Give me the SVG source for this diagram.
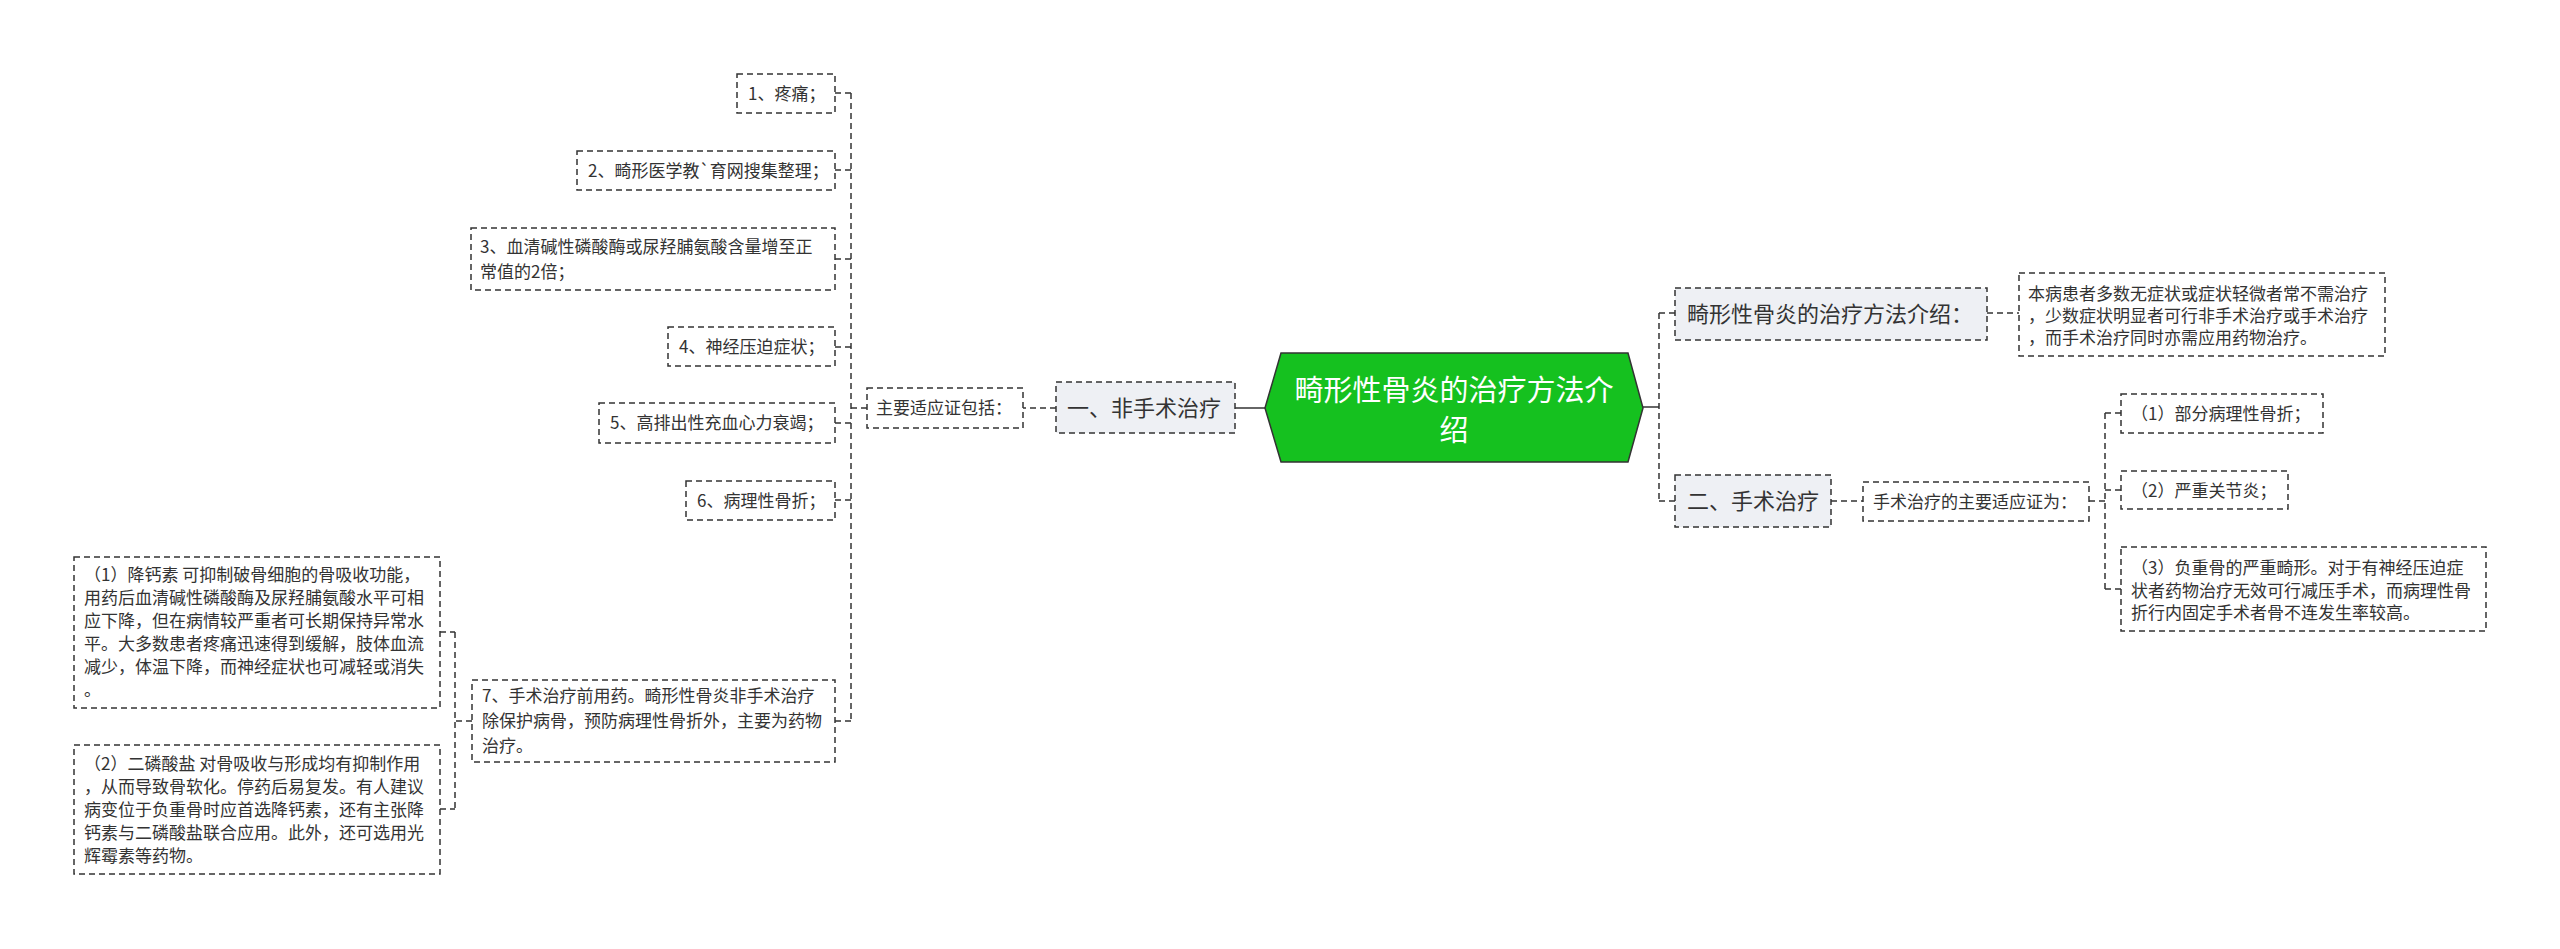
<svg xmlns="http://www.w3.org/2000/svg" width="2560" height="949" viewBox="0 0 2560 949">
<style>
.bx{fill:#ffffff;stroke:#333;stroke-width:1.5;stroke-dasharray:6 4}
.l1{fill:#eef0f4;stroke:#333;stroke-width:1.5;stroke-dasharray:6 4}
.t{font-family:"Noto Sans CJK SC","Noto Sans",sans-serif;fill:#333;font-size:17px}
.t1{font-family:"Noto Sans CJK SC","Noto Sans",sans-serif;fill:#333;font-size:22px}
.rt{font-family:"Noto Sans CJK SC","Noto Sans",sans-serif;fill:#ffffff;font-size:29px}
.c{stroke:#333;stroke-width:1.5;stroke-dasharray:6 4;fill:none}
.s{stroke:#333;stroke-width:1.5;fill:none}
</style>
<rect width="2560" height="949" fill="#ffffff"/>
<g id="connectors">
<path class="s" d="M1265 408 H1235"/>
<path class="c" d="M1056 408 H1023"/>
<path class="c" d="M867 408 H851"/>
<path class="c" d="M851 93 V721"/>
<path class="c" d="M835 93 H851 M835 170 H851 M835 259 H851 M835 347 H851 M835 423 H851 M835 500 H851 M835 721 H851"/>
<path class="c" d="M472 721 H455"/>
<path class="c" d="M455 632 V809"/>
<path class="c" d="M440 632 H455 M440 809 H455"/>
<path class="s" d="M1643 407 H1659"/>
<path class="c" d="M1659 313 V501"/>
<path class="c" d="M1659 313 H1675 M1659 501 H1675"/>
<path class="c" d="M1987 313 H2019"/>
<path class="c" d="M1831 501 H1863"/>
<path class="c" d="M2089 501 H2105"/>
<path class="c" d="M2105 413 V589"/>
<path class="c" d="M2105 413 H2121 M2105 490 H2121 M2105 589 H2121"/>
</g>
<g id="root">
<polygon points="1265,408 1281,353 1628,353 1643,408 1628,462 1281,462" fill="#15c11f" stroke="#333" stroke-width="1.5"/>
<text class="rt" x="1454" y="401" text-anchor="middle">畸形性骨炎的治疗方法介</text>
<text class="rt" x="1454" y="441" text-anchor="middle">绍</text>
</g>
<g id="n-nonsurgical">
<rect class="l1" x="1056" y="382" width="179" height="51"/>
<text class="t1" x="1067" y="416">一、非手术治疗</text>
</g>
<g id="n-indications">
<rect class="bx" x="867" y="388" width="156" height="40"/>
<text class="t" x="876" y="414">主要适应证包括：</text>
</g>
<g id="i1">
<rect class="bx" x="737" y="74" width="98" height="39"/>
<text class="t" x="748" y="100">1、疼痛；</text>
</g>
<g id="i2">
<rect class="bx" x="577" y="151" width="258" height="39"/>
<text class="t" x="588" y="177">2、畸形医学教`育网搜集整理；</text>
</g>
<g id="i3">
<rect class="bx" x="471" y="228" width="364" height="62"/>
<text class="t" x="480" y="253">3、血清碱性磷酸酶或尿羟脯氨酸含量增至正</text>
<text class="t" x="480" y="278">常值的2倍；</text>
</g>
<g id="i4">
<rect class="bx" x="668" y="327" width="167" height="39"/>
<text class="t" x="679" y="353">4、神经压迫症状；</text>
</g>
<g id="i5">
<rect class="bx" x="599" y="403" width="236" height="40"/>
<text class="t" x="610" y="429">5、高排出性充血心力衰竭；</text>
</g>
<g id="i6">
<rect class="bx" x="686" y="481" width="149" height="39"/>
<text class="t" x="697" y="507">6、病理性骨折；</text>
</g>
<g id="i7">
<rect class="bx" x="472" y="680" width="363" height="82"/>
<text class="t" x="482" y="702">7、手术治疗前用药。畸形性骨炎非手术治疗</text>
<text class="t" x="482" y="727">除保护病骨，预防病理性骨折外，主要为药物</text>
<text class="t" x="482" y="752">治疗。</text>
</g>
<g id="s1">
<rect class="bx" x="74" y="557" width="366" height="151"/>
<text class="t" x="84" y="581">（1）降钙素 可抑制破骨细胞的骨吸收功能，</text>
<text class="t" x="84" y="604">用药后血清碱性磷酸酶及尿羟脯氨酸水平可相</text>
<text class="t" x="84" y="627">应下降，但在病情较严重者可长期保持异常水</text>
<text class="t" x="84" y="650">平。大多数患者疼痛迅速得到缓解，肢体血流</text>
<text class="t" x="84" y="673">减少，体温下降，而神经症状也可减轻或消失</text>
<text class="t" x="84" y="696">。</text>
</g>
<g id="s2">
<rect class="bx" x="74" y="745" width="366" height="129"/>
<text class="t" x="84" y="770">（2）二磷酸盐 对骨吸收与形成均有抑制作用</text>
<text class="t" x="84" y="793">，从而导致骨软化。停药后易复发。有人建议</text>
<text class="t" x="84" y="816">病变位于负重骨时应首选降钙素，还有主张降</text>
<text class="t" x="84" y="839">钙素与二磷酸盐联合应用。此外，还可选用光</text>
<text class="t" x="84" y="862">辉霉素等药物。</text>
</g>
<g id="n-intro">
<rect class="l1" x="1675" y="288" width="312" height="52"/>
<text class="t1" x="1687" y="322">畸形性骨炎的治疗方法介绍：</text>
</g>
<g id="n-intro-detail">
<rect class="bx" x="2019" y="273" width="366" height="83"/>
<text class="t" x="2028" y="300">本病患者多数无症状或症状轻微者常不需治疗</text>
<text class="t" x="2028" y="322">，少数症状明显者可行非手术治疗或手术治疗</text>
<text class="t" x="2028" y="344">，而手术治疗同时亦需应用药物治疗。</text>
</g>
<g id="n-surgical">
<rect class="l1" x="1675" y="475" width="156" height="52"/>
<text class="t1" x="1687" y="509">二、手术治疗</text>
</g>
<g id="n-surg-ind">
<rect class="bx" x="1863" y="482" width="226" height="39"/>
<text class="t" x="1873" y="508">手术治疗的主要适应证为：</text>
</g>
<g id="r1">
<rect class="bx" x="2121" y="394" width="202" height="39"/>
<text class="t" x="2131" y="420">（1）部分病理性骨折；</text>
</g>
<g id="r2">
<rect class="bx" x="2121" y="471" width="167" height="38"/>
<text class="t" x="2131" y="497">（2）严重关节炎；</text>
</g>
<g id="r3">
<rect class="bx" x="2121" y="547" width="365" height="84"/>
<text class="t" x="2131" y="574">（3）负重骨的严重畸形。对于有神经压迫症</text>
<text class="t" x="2131" y="597">状者药物治疗无效可行减压手术，而病理性骨</text>
<text class="t" x="2131" y="619">折行内固定手术者骨不连发生率较高。</text>
</g>
</svg>
